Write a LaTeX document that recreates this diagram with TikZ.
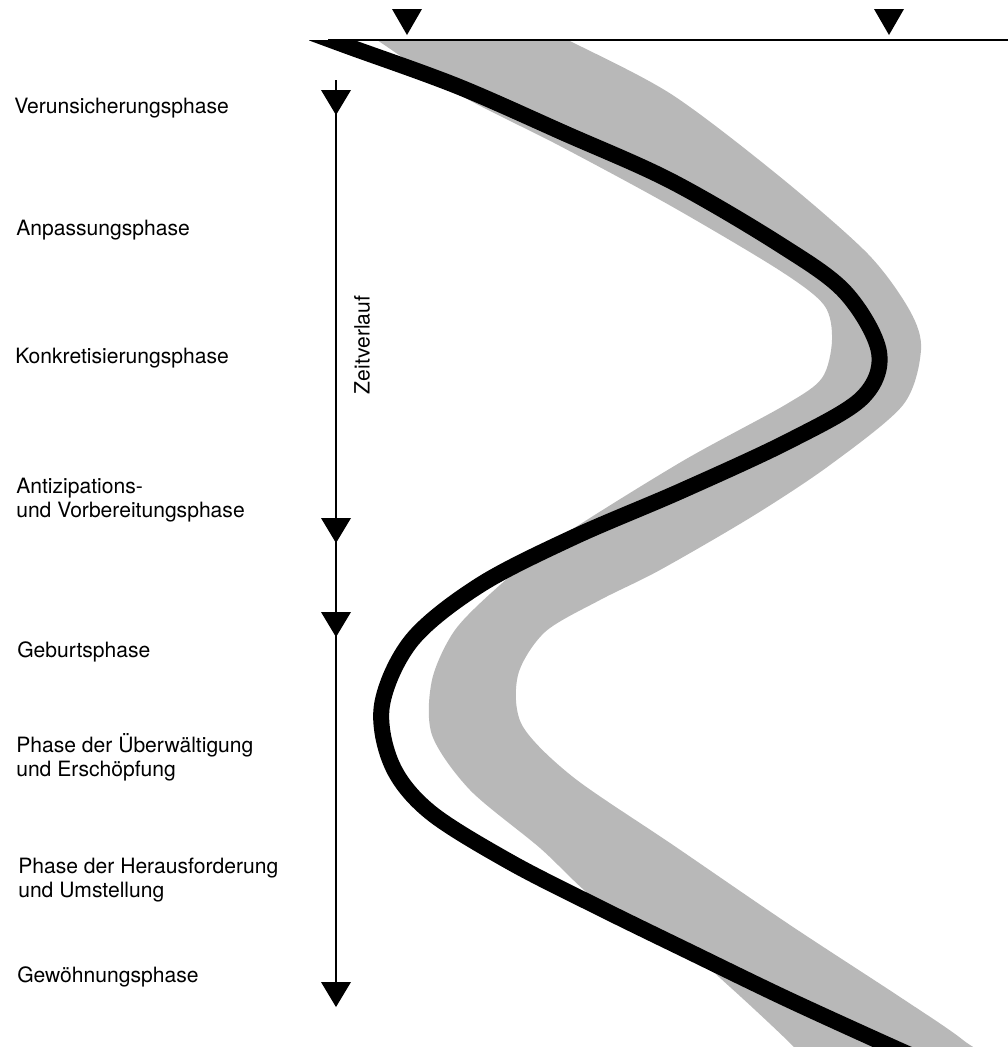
\documentclass[tikz,border=0pt]{standalone}
\usepackage{fontspec}
\setmainfont{TeX Gyre Heros}
\begin{document}
\begin{tikzpicture}[x=0.025cm, y=-0.025cm,
    phase/.style={anchor=west, align=left, inner sep=0pt, font=\fontsize{15}{17.1}\selectfont}]
    \useasboundingbox (0,0) rectangle (1008,1048);
    \begin{scope}
        \clip (0,40) rectangle (1008,1046);
        \fill[black!28] plot[smooth cycle, tension=0.5] coordinates {(528,20) (568,40) (671,94) (779,176) (868,254) (910,311) (921,350) (903,405) (830,465) (753,516) (660,570) (600,600) (545,632) (518,675) (522,725) (573,777) (673,845) (790,925) (900,997) (963,1040) (990,1070) (810,1068) (793,1046) (730,987) (680,945) (600,903) (540,848) (470,790) (432,735) (432,680) (455,630) (500,585) (556,540) (681,462) (785,405) (822,378) (832,340) (824,305) (779,270) (671,206) (560,146) (460,95) (380,42) (350,22)};
        \draw[line width=0.4cm] plot[smooth, tension=0.55] coordinates {(312,33) (350,47) (457,86) (564,133) (671,181) (779,244) (845,292) (879,352) (862,398) (789,441) (681,491) (574,537) (480,585) (412,640) (382,705) (392,765) (430,812) (510,862) (600,908) (690,952) (785,998) (890,1046) (940,1068)};
    \end{scope}
    \coordinate (achse-links) at (328,40);
    \coordinate (achse-rechts) at (1008,40);
    \draw[line width=1.5pt] (achse-links) -- (achse-rechts);
    \foreach \tx in {407,889}
        \fill (\tx-15,9) -- (\tx+15,9) -- (\tx,35) -- cycle;
    \coordinate (zeit-start) at (336,80);
    \coordinate (zeit-ende) at (336,1000);
    \draw[line width=1pt] (zeit-start) -- (zeit-ende);
    \foreach \ty in {90,518,612,982}
        \fill (321,\ty) -- (351,\ty) -- (336,\ty+25) -- cycle;
    \node[phase] (verunsicherung) at (14,108) {Verunsicherungsphase};
    \node[phase] (anpassung) at (16,230) {Anpassungsphase};
    \node[phase] (konkretisierung) at (15,358) {Konkretisierungsphase};
    \node[phase] (antizipation) at (16,500) {Antizipations-\\und Vorbereitungsphase};
    \node[phase] (geburt) at (17,652) {Geburtsphase};
    \node[phase] (ueberwaeltigung) at (16,757) {Phase der Überwältigung\\und Erschöpfung};
    \node[phase] (herausforderung) at (18,880) {Phase der Herausforderung\\und Umstellung};
    \node[phase] (gewoehnung) at (17,977) {Gewöhnungsphase};
    \node[rotate=90, inner sep=0pt, font=\fontsize{15}{17.1}\selectfont] (zeitverlauf) at (362,345) {Zeitverlauf};
\end{tikzpicture}
\end{document}
